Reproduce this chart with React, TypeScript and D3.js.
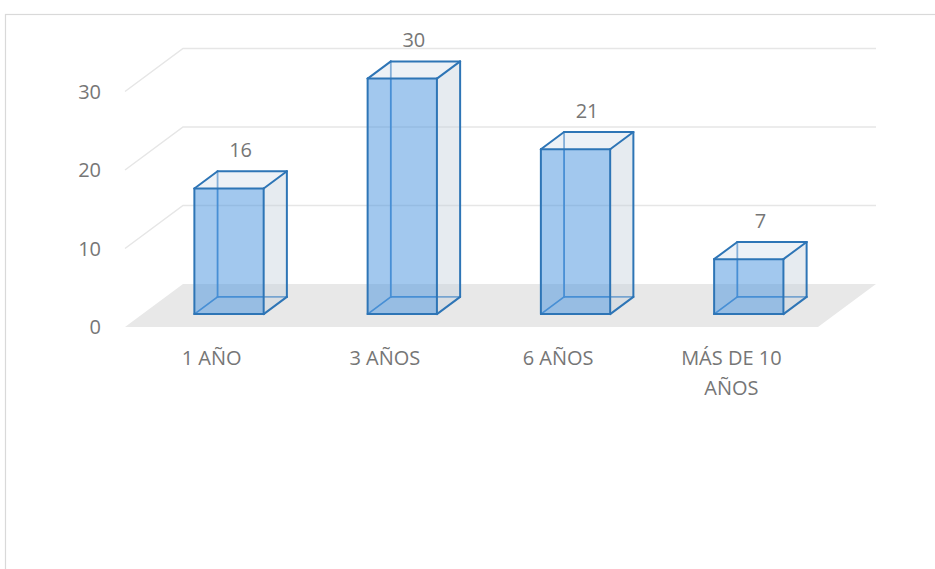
import React from "react";
import * as d3 from "d3";

const categories = ["1 AÑO", "3 AÑOS", "6 AÑOS", "MÁS DE 10 AÑOS"];
const values = [16, 30, 21, 7];
const yTicks = [0, 10, 20, 30];

const W = 935;
const H = 569;
const FLOOR_LEFT = 125;
const FLOOR_RIGHT = 818;
const FLOOR_Y = 327;
const DEPTH_X = 58;
const DEPTH_Y = 43;
const Z0 = 0.3;
const Z1 = 0.7;

const TEXT = "#767676";
const FONT = "'Open Sans', 'Noto Sans', sans-serif";

function wrap(label: string, maxChars: number): string[] {
  const words = label.split(" ");
  const lines: string[] = [];
  let cur = "";
  for (const w of words) {
    const next = cur ? cur + " " + w : w;
    if (next.length > maxChars && cur) {
      lines.push(cur);
      cur = w;
    } else cur = next;
  }
  if (cur) lines.push(cur);
  return lines;
}

export default function App() {
  const x = d3
    .scaleBand<string>()
    .domain(categories)
    .range([FLOOR_LEFT, FLOOR_RIGHT])
    .paddingInner(0.6)
    .paddingOuter(0.3);
  const y = d3.scaleLinear().domain([0, 30]).range([FLOOR_Y, FLOOR_Y - 235.5]);

  const P = (xs: number, v: number, z: number): [number, number] => [
    xs + z * DEPTH_X,
    y(v) - z * DEPTH_Y,
  ];
  const pts = (arr: [number, number][]) => arr.map((p) => p.join(",")).join(" ");

  const floor = [
    P(FLOOR_LEFT, 0, 0),
    P(FLOOR_RIGHT, 0, 0),
    P(FLOOR_RIGHT, 0, 1),
    P(FLOOR_LEFT, 0, 1),
  ];

  const stroke = "#2e75b6";

  return (
    <svg
      width={W}
      height={H}
      style={{ position: "absolute", left: 0, top: 0, background: "#fff" }}
      fontFamily={FONT}
    >
      <rect x={5.5} y={14.5} width={W + 20} height={H + 20} fill="#fff" stroke="#d9d9d9" strokeWidth={1.2} />

      {yTicks
        .filter((t) => t > 0)
        .map((t) => {
          const a = P(FLOOR_LEFT, t, 0);
          const b = P(FLOOR_LEFT, t, 1);
          const c = P(FLOOR_RIGHT, t, 1);
          return (
            <polyline
              key={t}
              points={pts([a, b, c])}
              fill="none"
              stroke="#e6e6e6"
              strokeWidth={1.5}
            />
          );
        })}

      <polygon points={pts(floor)} fill="#e8e8e8" />

      {yTicks.map((t) => (
        <text
          key={t}
          x={101}
          y={y(t) + 7}
          textAnchor="end"
          fontSize={20}
          fill={TEXT}
        >
          {t}
        </text>
      ))}

      {categories.map((c, i) => {
        const v = values[i];
        const x0 = x(c)!;
        const x1 = x0 + x.bandwidth();
        const fbl = P(x0, 0, Z0), fbr = P(x1, 0, Z0), ftl = P(x0, v, Z0), ftr = P(x1, v, Z0);
        const bbl = P(x0, 0, Z1), bbr = P(x1, 0, Z1), btl = P(x0, v, Z1), btr = P(x1, v, Z1);
        const line = (a: [number, number], b: [number, number], k: string, sw = 2, col = stroke) => (
          <line key={k} x1={a[0]} y1={a[1]} x2={b[0]} y2={b[1]} stroke={col} strokeWidth={sw} strokeLinecap="round" />
        );
        return (
          <g key={c}>
            {line(bbl, bbr, "h1", 1.8, "#3f86c9")}
            {line(bbl, btl, "h2", 1.8, "#3f86c9")}
            {line(fbl, bbl, "h3", 1.8, "#3f86c9")}
            <polygon points={pts([fbr, bbr, btr, ftr])} fill="rgba(196,208,220,0.42)" />
            <polygon points={pts([ftl, ftr, btr, btl])} fill="rgba(214,224,234,0.45)" />
            <polygon points={pts([fbl, fbr, ftr, ftl])} fill="rgba(80,152,222,0.53)" />
            {line(fbl, fbr, "e1")}
            {line(fbr, ftr, "e2")}
            {line(ftr, ftl, "e3")}
            {line(ftl, fbl, "e4")}
            {line(ftl, btl, "e5")}
            {line(btl, btr, "e6")}
            {line(ftr, btr, "e7")}
            {line(btr, bbr, "e8")}
            {line(fbr, bbr, "e9")}
            <text
              x={(ftl[0] + btr[0]) / 2}
              y={btl[1] - 21 + 7}
              textAnchor="middle"
              fontSize={20}
              fill={TEXT}
            >
              {v}
            </text>
          </g>
        );
      })}

      {categories.map((c) => {
        const cx = x(c)! + x.bandwidth() / 2;
        const lines = wrap(c, 10);
        return (
          <text key={c} x={cx} y={FLOOR_Y + 38} textAnchor="middle" fontSize={20} fill={TEXT}>
            {lines.map((l, k) => (
              <tspan key={k} x={cx} dy={k === 0 ? 0 : 29.5}>
                {l}
              </tspan>
            ))}
          </text>
        );
      })}
    </svg>
  );
}
